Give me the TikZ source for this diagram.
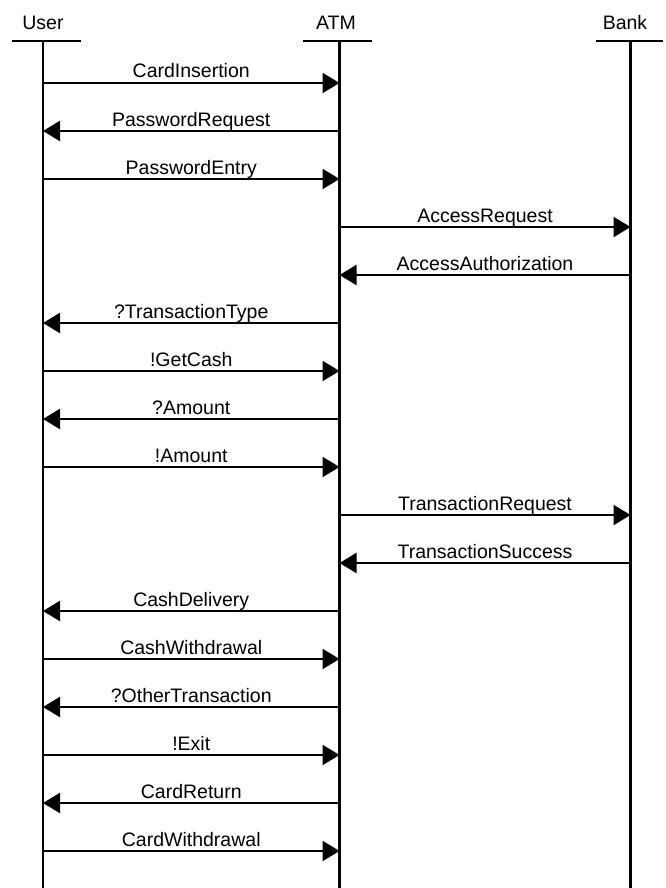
\documentclass[tikz,border=0pt]{standalone}
\usepackage{fontspec}
\setmainfont{Liberation Sans}
\usetikzlibrary{arrows.meta}
\tikzset{actor/.style={anchor=base,inner sep=0pt,font=\fontsize{19.5}{22}\selectfont},
  life/.style={line width=2.2pt},
  msg/.style={line width=2.2pt,-{Triangle[length=17pt,width=20pt]}},
  lbl/.style={anchor=base,yshift=5pt,inner sep=0pt,font=\fontsize{19.5}{22}\selectfont},}
\newcommand{\ms}[4]{\path (#1) ++(0,{48*#3-6}) coordinate (#1#3);
  \path (#2) ++(0,{48*#3-6}) coordinate (#2#3);
  \draw[msg] (#1#3) -- node[lbl] {#4} (#2#3);}

\begin{document}
\begin{tikzpicture}[x=1pt,y=-1pt]
        \useasboundingbox (0,0) rectangle (665,888);

        \node[actor] (user) at (43,29.5) {User};
        \node[actor] (atm) at (336,29.5) {ATM};
        \node[actor] (bank) at (625,29.5) {Bank};

        \coordinate (u) at (43,41);
        \coordinate (a) at (339.5,41);
        \coordinate (b) at (630.5,41);
        \coordinate (uend) at (43,888);
        \coordinate (aend) at (339.5,888);
        \coordinate (bend) at (630.5,888);

        \draw[life] (12,41) -- (81,41);
        \draw[life] (303,41) -- (372,41);
        \draw[life] (596,41) -- (663,41);
        \draw[life] (u) -- (uend);
        \draw[life] (a) -- (aend);
        \draw[life] (b) -- (bend);

        \ms{u}{a}{1}{CardInsertion}
        \ms{a}{u}{2}{PasswordRequest}
        \ms{u}{a}{3}{PasswordEntry}
        \ms{a}{b}{4}{AccessRequest}
        \ms{b}{a}{5}{AccessAuthorization}
        \ms{a}{u}{6}{?TransactionType}
        \ms{u}{a}{7}{!GetCash}
        \ms{a}{u}{8}{?Amount}
        \ms{u}{a}{9}{!Amount}
        \ms{a}{b}{10}{TransactionRequest}
        \ms{b}{a}{11}{TransactionSuccess}
        \ms{a}{u}{12}{CashDelivery}
        \ms{u}{a}{13}{CashWithdrawal}
        \ms{a}{u}{14}{?OtherTransaction}
        \ms{u}{a}{15}{!Exit}
        \ms{a}{u}{16}{CardReturn}
        \ms{u}{a}{17}{CardWithdrawal}
    \end{tikzpicture}
\end{document}
